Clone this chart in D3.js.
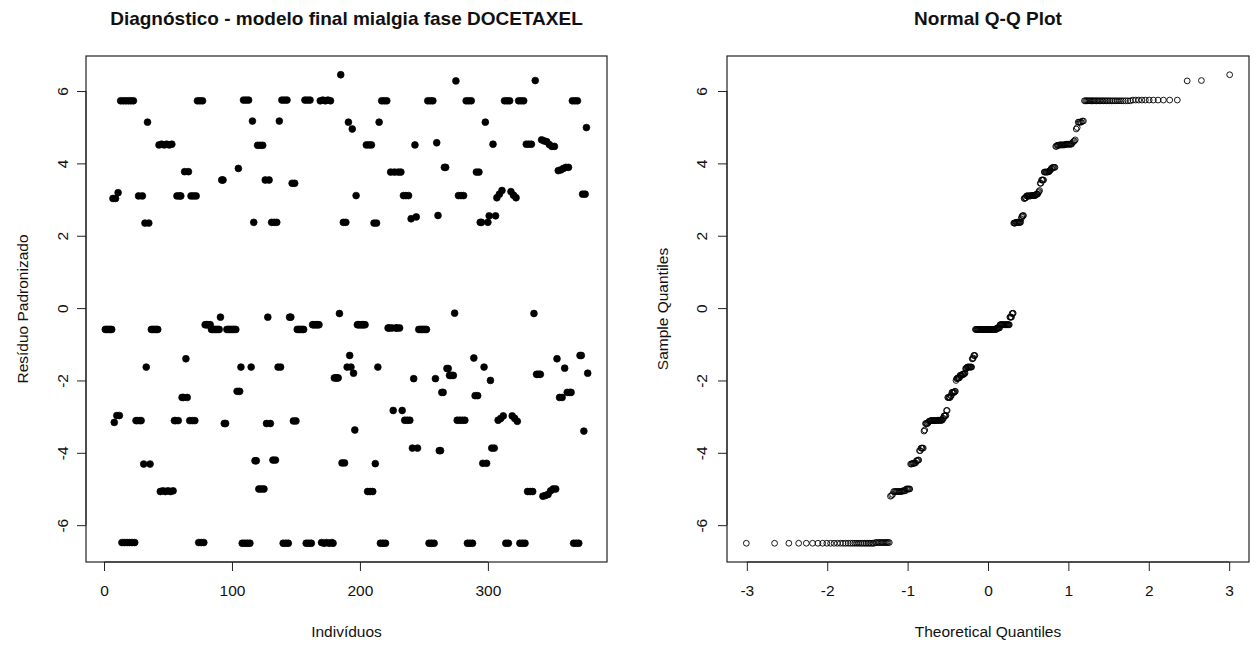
<!DOCTYPE html>
<html>
<head>
<meta charset="utf-8">
<script src="https://cdn.jsdelivr.net/npm/d3@7"></script>
<style>
  html, body { margin: 0; padding: 0; background: #fff; }
  svg { display: block; }
  text { font-family: "Liberation Sans", Arial, sans-serif; fill: #111; }
</style>
</head>
<body>
<svg id="chart" width="1256" height="646"></svg>
<script>
// Standardized residuals of the final mixed model, in individual order
const residuals = [
  -0.59,-0.59,-0.59,-0.59,-0.59,-0.59, 3.03,-3.16,3.03,-2.97,3.19,-2.97,
  5.73,-6.48,5.73,-6.48,5.73,-6.48,5.73,-6.48,5.73,-6.48,5.73,-6.48,
  -3.11,-3.11,3.10,-3.11,-3.11,3.10, -4.31,2.35,-1.63,5.14,2.35,-4.31,
  -0.59,-0.59,-0.59,-0.59,-0.59,-0.59,
  4.51,-5.07,4.53,-5.05,4.51,-5.07,4.53,-5.05,4.51,-5.07,4.53,-5.05,
  -3.11,-3.11,3.10,-3.11,3.10,3.10, -2.47,-2.47,3.77,-1.40,-2.47,3.77,
  -3.11,3.10,-3.11,3.10,-3.11,3.10,
  5.73,-6.48,5.73,-6.48,5.73,-6.48, -0.46,-0.46,-0.46,-0.46,-0.46,
  -0.59,-0.59,-0.59,-0.59,-0.59,-0.59,-0.59, -0.25, 3.54,3.54,-3.19,-3.19,
  -0.59,-0.59,-0.59,-0.59,-0.59,-0.59,-0.59,-0.59, -2.30,3.86,-2.30,
  -1.63,-6.50,5.75,-6.50,5.75,-6.50,5.75,-6.50,-1.63, 5.17,2.37,-4.22,-4.22,
  4.50,-5.00,4.50,-5.00,4.50,-5.00, 3.54,-3.19,-0.25,3.54,-3.19,
  2.37,-4.20,2.37,-4.20,2.37,-1.63,5.17,-1.63, 5.75,-6.50,5.75,-6.50,5.75,-6.50,
  -0.25,-0.25,3.45,-3.12,3.45,-3.12, -0.59,-0.59,-0.59,-0.59,-0.59,-0.59,
  5.75,-6.50,5.75,-6.50,5.75,-6.50, -0.46,-0.46,-0.46,-0.46,-0.46,-0.46,
  5.73,-6.48,5.75,-6.50,5.73,-6.48,5.75,-6.50,5.73,-6.48,-6.50,
  -1.93,-1.93,-1.93,-1.93, -0.15,6.45, -4.28,2.37,-4.28,2.37,
  -1.63,5.14,-1.31,-1.63,4.95,-1.80,-3.37,3.11,
  -0.46,-0.46,-0.46,-0.46,-0.46,-0.46,-0.46, 4.51,-5.07,4.51,-5.07,4.51,-5.07,
  2.35,-4.30,2.35,-1.63,5.14,
  -6.50,5.73,-6.50,5.73,-6.50,5.73,
  -0.55,-0.55,3.76,-0.55,-2.83,3.76,-0.55,-0.55,3.76,-0.55,3.76,-2.83,
  3.11,-3.10,3.11,-3.10,3.11,-3.10, 2.47,-3.87,-1.95,4.51,2.52,-3.87,
  -0.59,-0.59,-0.59,-0.59,-0.59,-0.59,-0.59,
  5.73,-6.50,5.73,-6.50,5.73,-6.50,
  -1.95,4.57,2.56,-3.94,-3.94,-2.33,-2.33,3.89,3.89,-1.67,-1.67,
  -1.86,-1.86,-1.86,-1.86,-0.14,6.28,
  -3.10,3.11,-3.10,3.11,-3.10,3.11,-3.10, 5.73,-6.50,5.73,-6.50,5.73,-6.50,
  -1.38,-2.42,3.76,-2.42,3.76,2.37,2.37,-4.29,-1.63,5.14,-4.29,2.37,2.55,
  -2.00,-3.87,4.53,-3.87,2.55,
  3.05,-3.10,3.15,-3.05,3.25,-2.98, 5.73,-6.50,5.73,-6.50,5.73,
  3.22,-2.98,3.12,-3.05,3.05,-3.13,
  5.73,-6.50,5.73,-6.50,5.73,-6.50, 4.53,-5.07,4.53,-5.07,4.53,-5.07,
  -0.15,6.29,-1.83,-1.83,-1.83,-1.83,
  4.65,-5.20,4.62,-5.18,4.60,-5.15,4.52,-5.05,4.47,-5.00,4.47,-5.00,
  -1.40,3.80,-2.47,3.82,-2.47,3.86,-1.66,3.89,-2.33,3.89,-2.33,
  -2.33,5.73,-6.50,5.73,-6.50,5.73,-6.50, -1.31,-1.31,3.15,-3.40,3.15,4.99,-1.80
];

const indexTicks = [0, 100, 200, 300];
const residualTicks = [-6, -4, -2, 0, 2, 4, 6];
const quantileTicks = [-3, -2, -1, 0, 1, 2, 3];

const titles = {
  left: "Diagnóstico - modelo final mialgia fase DOCETAXEL",
  right: "Normal Q-Q Plot"
};
const axisTitles = {
  leftX: "Indivíduos", leftY: "Resíduo Padronizado",
  rightX: "Theoretical Quantiles", rightY: "Sample Quantiles"
};

// Inverse standard normal CDF (Acklam's rational approximation)
function qnorm(p) {
  const a = [-3.969683028665376e+01, 2.209460984245205e+02, -2.759285104469687e+02,
             1.383577518672690e+02, -3.066479806614716e+01, 2.506628277459239e+00];
  const b = [-5.447609879822406e+01, 1.615858368580409e+02, -1.556989798598866e+02,
             6.680131188771972e+01, -1.328068155288572e+01];
  const c = [-7.784894002430293e-03, -3.223964580411365e-01, -2.400758277161838e+00,
             -2.549732539343734e+00, 4.374664141464968e+00, 2.938163982698783e+00];
  const d = [7.784695709041462e-03, 3.224671290700398e-01, 2.445134137142996e+00,
             3.754408661907416e+00];
  const pl = 0.02425, ph = 1 - pl;
  let q, r;
  if (p < pl) {
    q = Math.sqrt(-2 * Math.log(p));
    return (((((c[0]*q+c[1])*q+c[2])*q+c[3])*q+c[4])*q+c[5]) / ((((d[0]*q+d[1])*q+d[2])*q+d[3])*q+1);
  }
  if (p <= ph) {
    q = p - 0.5; r = q * q;
    return (((((a[0]*r+a[1])*r+a[2])*r+a[3])*r+a[4])*r+a[5])*q / (((((b[0]*r+b[1])*r+b[2])*r+b[3])*r+b[4])*r+1);
  }
  q = Math.sqrt(-2 * Math.log(1 - p));
  return -(((((c[0]*q+c[1])*q+c[2])*q+c[3])*q+c[4])*q+c[5]) / ((((d[0]*q+d[1])*q+d[2])*q+d[3])*q+1);
}

// Extend a data range by 4% on each side, like R's default axis style
function padded(lo, hi) {
  const pad = (hi - lo) * 0.04;
  return [lo - pad, hi + pad];
}

const n = residuals.length;
const points = residuals.map((v, i) => ({ idx: i + 1, v }));
const sorted = residuals.slice().sort((a, b) => a - b);
const qq = sorted.map((v, i) => ({ q: qnorm((i + 0.5) / n), v }));

const svg = d3.select("#chart");
const plotTop = 56, plotBottom = 562;
const tickLen = 9;
const labelSize = 15.5;
const textColor = "#333";

const yDomain = padded(d3.min(residuals), d3.max(residuals));
const minus = d => d < 0 ? "-" + Math.abs(d) : String(d);

function drawPanel(opt) {
  const g = svg.append("g");
  const x = d3.scaleLinear().domain(opt.xDomain).range([opt.left, opt.right]);
  const y = d3.scaleLinear().domain(yDomain).range([plotBottom, plotTop]);

  // bottom axis
  const xa = g.append("g").attr("transform", `translate(0,${plotBottom})`)
    .call(d3.axisBottom(x).tickValues(opt.xTicks).tickSize(tickLen).tickPadding(14).tickFormat(minus));
  xa.select(".domain").attr("d", `M${x(opt.xTicks[0])},0H${x(opt.xTicks[opt.xTicks.length - 1])}`);
  // left axis
  const ya = g.append("g").attr("transform", `translate(${opt.left},0)`)
    .call(d3.axisLeft(y).tickValues(residualTicks).tickSize(tickLen).tickFormat(minus));
  ya.select(".domain").attr("d", `M0,${y(residualTicks[0])}V${y(residualTicks[residualTicks.length - 1])}`);
  [xa, ya].forEach(a => {
    a.selectAll("line, path").attr("stroke", "#222").attr("stroke-width", 1);
    a.selectAll("text").attr("font-size", labelSize)
      .attr("font-family", "Liberation Sans, Arial, sans-serif").attr("fill", textColor);
  });
  ya.selectAll("text")
    .attr("x", null).attr("dy", null)
    .attr("text-anchor", "middle")
    .attr("dominant-baseline", "central")
    .attr("transform", `translate(${opt.yLabelX - opt.left},0) rotate(-90)`);

  // plot box
  g.append("rect")
    .attr("x", opt.left).attr("y", plotTop)
    .attr("width", opt.right - opt.left).attr("height", plotBottom - plotTop)
    .attr("fill", "none").attr("stroke", "#222").attr("stroke-width", 1.2);

  // titles
  const cx = (opt.left + opt.right) / 2;
  g.append("text").attr("x", cx).attr("y", 25).attr("text-anchor", "middle")
    .attr("font-weight", "bold").attr("font-size", 19).attr("fill", "#000").text(opt.title);
  g.append("text").attr("x", cx).attr("y", 637).attr("text-anchor", "middle")
    .attr("font-size", labelSize).attr("fill", textColor).text(opt.xTitle);
  g.append("text").attr("transform", `translate(${opt.yTitleX},${(plotTop + plotBottom) / 2}) rotate(-90)`)
    .attr("text-anchor", "middle").attr("dominant-baseline", "central")
    .attr("font-size", labelSize).attr("fill", textColor).text(opt.yTitle);

  return { g, x, y };
}

// Left panel: residuals by individual
const L = drawPanel({
  left: 86, right: 607,
  xDomain: padded(1, n), xTicks: indexTicks,
  title: titles.left, xTitle: axisTitles.leftX, yTitle: axisTitles.leftY,
  yLabelX: 62, yTitleX: 22
});
L.g.append("g").selectAll("circle").data(points).join("circle")
  .attr("cx", d => L.x(d.idx)).attr("cy", d => L.y(d.v))
  .attr("r", 3.4).attr("fill", "#000").attr("stroke", "#000").attr("stroke-width", 0.7);

// Right panel: normal Q-Q plot of the same residuals
const qExt = d3.extent(qq, d => d.q);
const R = drawPanel({
  left: 727, right: 1249,
  xDomain: padded(qExt[0], qExt[1]), xTicks: quantileTicks,
  title: titles.right, xTitle: axisTitles.rightX, yTitle: axisTitles.rightY,
  yLabelX: 701, yTitleX: 662
});
R.g.append("g").selectAll("circle").data(qq).join("circle")
  .attr("cx", d => R.x(d.q)).attr("cy", d => R.y(d.v))
  .attr("r", 2.9).attr("fill", "none").attr("stroke", "#000").attr("stroke-width", 0.9);
</script>
</body>
</html>
